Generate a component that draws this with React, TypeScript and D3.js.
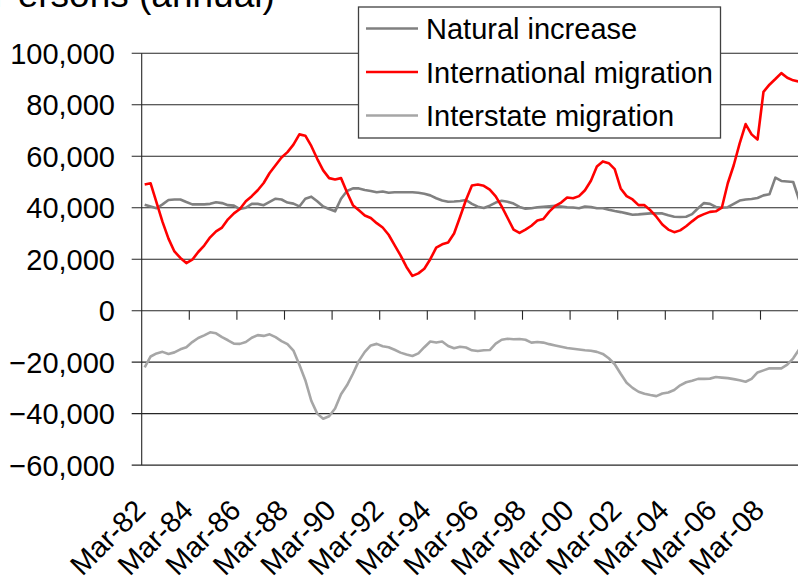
import React from "react";
import * as d3 from "d3";

// Quarterly categories, Mar-82 .. Dec-09
const years = d3.range(1982, 2010);
const months = ["Mar", "Jun", "Sep", "Dec"];
const quarters: string[] = years.flatMap((y) =>
  months.map((m) => `${m}-${String(y % 100).padStart(2, "0")}`)
);

// Values in thousands of persons (annual)
const naturalIncrease = [
  41.2, 40.5, 39.8, 41.3, 43, 43.2, 43.2, 42.2, 41.3, 41.3,
  41.3, 41.5, 42.1, 41.8, 41, 40.8, 39.5, 40, 41.5, 41.5,
  41, 42.3, 43.5, 43.2, 42, 41.6, 40.5, 43.5, 44.3, 42.5,
  40.5, 39.5, 38.6, 43.5, 46.5, 47.5, 47.5, 46.9, 46.5, 46,
  46.3, 45.8, 46, 46, 46, 46, 45.8, 45.4, 44.8, 43.7,
  42.8, 42.3, 42.4, 42.6, 43, 41.5, 40.4, 39.9, 40.8, 42,
  42.7, 42.3, 41.6, 40.3, 39.6, 39.8, 40.2, 40.4, 40.6, 40.7,
  40.5, 40.2, 40.1, 39.8, 40.5, 40.3, 39.8, 39.8, 39.2, 38.7,
  38.3, 37.8, 37.3, 37.4, 37.6, 37.8, 37.8, 37.8, 37.1, 36.5,
  36.4, 36.5, 37.5, 39.8, 41.8, 41.5, 40.3, 40, 40.2, 41.5,
  42.8, 43.2, 43.4, 43.8, 44.8, 45.2, 51.7, 50.4, 50.2, 50,
  43,
];

const internationalMigration = [
  49, 49.5, 42, 34.5, 28, 23, 20.5, 18.5, 19.8, 22.8,
  25.3, 28.5, 30.8, 32.3, 35.5, 37.8, 39.5, 42.5, 44.5, 46.8,
  49.6, 53.5, 56.5, 59.5, 61.6, 64.5, 68.5, 68, 64, 59,
  54.5, 51.5, 51, 51.5, 46, 41, 39, 37, 36, 34,
  32.3, 29.5, 25.5, 21.5, 17, 13.5, 14.5, 16.3, 20, 24.5,
  25.8, 26.5, 30, 36.4, 43, 48.6, 49, 48.5, 47, 44.4,
  40.5, 36, 31.5, 30.2, 31.5, 33, 35, 35.6, 38.5, 40.7,
  42, 44, 43.7, 44.5, 46.8, 50.5, 56, 58, 57.3, 55,
  47.5, 44.5, 43.2, 41, 41, 39, 36.5, 33.5, 31.5, 30.5,
  31.2, 32.8, 34.7, 36.5, 37.5, 38.4, 38.6, 40, 49.5, 56.5,
  65, 72.5, 68.5, 66.5, 85, 87.8, 90, 92.3, 90.5, 89.5,
  89,
];

const interstateMigration = [
  -22, -17.8, -16.6, -16, -16.8, -16.2, -15, -14.2, -12.2, -10.6,
  -9.6, -8.4, -8.8, -10.3, -11.5, -12.8, -12.9, -12.2, -10.5, -9.5,
  -9.8, -9.2, -10.3, -11.8, -13, -15.5, -21, -27, -35, -40,
  -42, -41, -38, -32.5, -29, -24.5, -19.5, -16, -13.5, -12.9,
  -13.8, -14.2, -15.2, -16.3, -17, -17.6, -16.6, -14.2, -12, -12.4,
  -12, -13.7, -14.6, -14, -14.3, -15.4, -15.7, -15.4, -15.3, -12.8,
  -11.3, -10.9, -11.1, -11, -11.3, -12.4, -12.2, -12.4, -13, -13.5,
  -14, -14.5, -14.8, -15.1, -15.4, -15.6, -16, -16.8, -18.5, -20.8,
  -24.5, -28, -30, -31.5, -32.3, -32.8, -33.2, -32.2, -31.8, -30.8,
  -29, -27.8, -27.2, -26.5, -26.5, -26.4, -25.8, -26, -26.2, -26.6,
  -27, -27.6, -26.5, -24, -23.2, -22.4, -22.4, -22.4, -21, -18.5,
  -15,
];

const yTicks = [-60000, -40000, -20000, 0, 20000, 40000, 60000, 80000, 100000];
const xTickLabels = [
  "Mar-82", "Mar-84", "Mar-86", "Mar-88", "Mar-90", "Mar-92", "Mar-94",
  "Mar-96", "Mar-98", "Mar-00", "Mar-02", "Mar-04", "Mar-06", "Mar-08",
];
const labelEvery = 8;

const seriesDefs = [
  { name: "Natural increase", values: naturalIncrease, color: "#808080" },
  { name: "International migration", values: internationalMigration, color: "#ff0000" },
  { name: "Interstate migration", values: interstateMigration, color: "#a6a6a6" },
];

const W = 798;
const H = 577;
const FONT = "'Liberation Sans', Arial, sans-serif";
const FS = 29;

export default function App() {
  const left = 141.7;
  const step = 5.95;
  const x = d3
    .scaleBand<string>()
    .domain(quarters)
    .range([left, left + quarters.length * step])
    .paddingInner(0)
    .paddingOuter(0);
  const bw = x.bandwidth();
  const cx = (i: number) => (x(quarters[i]) as number) + bw / 2;
  const y = d3.scaleLinear().domain([-60000, 100000]).range([465.1, 53.3]);
  const fmt = d3.format(",");

  const line = d3
    .line<number>()
    .x((_, i) => cx(i))
    .y((d) => y(d * 1000));

  const y0 = y(0);
  const tickIdx = d3.range(labelEvery, quarters.length, labelEvery);

  const legendX = 358.5;
  const legendY = 7;
  const legendW = 362;
  const legendH = 131;
  const rowYs = [28.5, 72, 115.5];

  return (
    <svg
      width={W}
      height={H}
      style={{ position: "absolute", left: 0, top: 0, background: "#fff" }}
      fontFamily={FONT}
    >
      <rect x={0} y={0} width={W} height={H} fill="#fff" />
      <text x={-7} y={7} fontSize={37} fill="#000">
        Persons (annual)
      </text>

      {/* gridlines + y ticks */}
      {yTicks.map((t) => (
        <g key={t}>
          <line x1={131.7} x2={W} y1={y(t)} y2={y(t)} stroke="#262626" strokeWidth={1.1} />
          <text x={115} y={y(t) + 10.5} textAnchor="end" fontSize={FS} fill="#000">
            {fmt(t)}
          </text>
        </g>
      ))}
      {/* y axis */}
      <line x1={left} x2={left} y1={y(100000)} y2={y(-60000)} stroke="#262626" strokeWidth={1.1} />
      {/* category ticks on zero line */}
      {tickIdx.map((i) => {
        const tx = x(quarters[i]) as number;
        return <line key={i} x1={tx} x2={tx} y1={y0} y2={y0 + 9} stroke="#262626" strokeWidth={1.1} />;
      })}

      {/* x labels */}
      {xTickLabels.map((lab, k) => {
        const i = k * labelEvery;
        const ax = cx(i) + 2.5;
        const ay = 512;
        return (
          <text
            key={lab}
            x={ax}
            y={ay}
            textAnchor="end"
            fontSize={FS}
            fill="#000"
            transform={`rotate(-45 ${ax} ${ay})`}
          >
            {lab}
          </text>
        );
      })}

      {/* series */}
      {seriesDefs.map((s) => (
        <path
          key={s.name}
          d={line(s.values) || ""}
          fill="none"
          stroke={s.color}
          strokeWidth={2.6}
          strokeLinejoin="round"
        />
      ))}

      {/* legend */}
      <rect
        x={legendX}
        y={legendY}
        width={legendW}
        height={legendH}
        fill="#fff"
        stroke="#404040"
        strokeWidth={1.3}
      />
      {seriesDefs.map((s, k) => (
        <g key={s.name}>
          <line x1={366} x2={418} y1={rowYs[k]} y2={rowYs[k]} stroke={s.color} strokeWidth={2.6} />
          <text x={426} y={rowYs[k] + 10.5} fontSize={FS} fill="#000">
            {s.name}
          </text>
        </g>
      ))}
    </svg>
  );
}
